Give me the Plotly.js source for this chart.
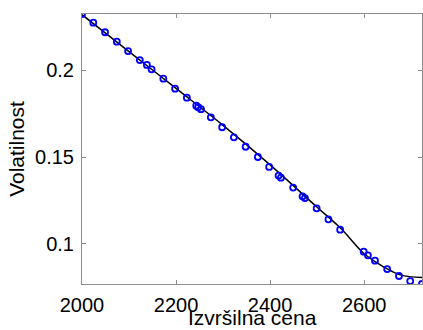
<!DOCTYPE html>
<html>
<head>
<meta charset="utf-8">
<script src="https://cdn.plot.ly/plotly-3.0.1.min.js"></script>
<style>html,body{margin:0;padding:0;background:#fff;}#chart{width:423px;height:330px;}</style>
</head>
<body>
<div id="chart"></div>
<script>
// Observed data (strike price vs. implied volatility)
const strikes = [2000, 2024, 2049, 2074, 2098, 2123, 2138, 2148, 2173, 2198, 2223, 2243, 2247, 2253, 2274, 2298, 2323,
                 2348, 2374, 2398, 2418, 2423, 2449, 2469, 2474, 2499, 2524, 2549, 2599, 2608, 2623, 2649, 2674, 2698, 2723];
const vols = [0.2322, 0.2272, 0.2217, 0.2163, 0.2109, 0.2057, 0.2029, 0.2004, 0.1950, 0.1893, 0.1841, 0.1795, 0.1786, 0.1775, 0.1728, 0.1671, 0.1613,
              0.1559, 0.1500, 0.1443, 0.1393, 0.1381, 0.1324, 0.1274, 0.1264, 0.1205, 0.1142, 0.1082, 0.0956, 0.0935, 0.0904, 0.0856, 0.0816, 0.0787, 0.0770];
// Fitted curve
const fitX = [2000, 2100, 2200, 2300, 2400, 2500, 2550, 2600, 2625, 2650, 2675, 2700, 2723];
const fitY = [0.2318, 0.2106, 0.1894, 0.1682, 0.1455, 0.1211, 0.1090, 0.0944, 0.0896, 0.0855, 0.0824, 0.0811, 0.0808];
const xTicks = [2000, 2200, 2400, 2600];
const yTicks = [0.1, 0.15, 0.2];
const xTitle = 'Izvršilna cena';
const yTitle = 'Volatilnost';

const family = 'Liberation Sans, Arial, sans-serif';
const tickFont = {family: family, size: 20, color: '#000'};
const titleFont = {family: family, size: 21, color: '#000'};
const traces = [
  {x: fitX, y: fitY, mode: 'lines', line: {color: '#000', width: 1.5, shape: 'spline', smoothing: 1}, hoverinfo: 'skip'},
  {x: strikes, y: vols, mode: 'markers',
   marker: {symbol: 'circle-open', size: 6, color: '#0000ff', line: {width: 1.8, color: '#0000ff'}}}
];
const axisCommon = {showgrid: false, zeroline: false, showline: true, mirror: 'ticks', linecolor: '#8c8c8c', linewidth: 1,
  ticks: 'inside', ticklen: 4, tickcolor: '#8c8c8c', tickfont: tickFont, automargin: false};
const layout = {
  width: 423, height: 330, showlegend: false,
  margin: {l: 82, r: 1, t: 14, b: 46},
  paper_bgcolor: '#fff', plot_bgcolor: '#fff',
  xaxis: Object.assign({}, axisCommon, {range: [2000, 2723], tickvals: xTicks, ticktext: xTicks.map(String),
    ticklabelstandoff: 3}),
  yaxis: Object.assign({}, axisCommon, {range: [0.077, 0.2322], tickvals: yTicks, ticktext: ['0.1', '0.15', '0.2'],
    ticklabelstandoff: 3,
    title: {text: yTitle, font: titleFont, standoff: 4}}),
  annotations: [{
    text: xTitle, font: titleFont, showarrow: false,
    xref: 'paper', yref: 'paper', x: 0.5, y: 0, xanchor: 'center', yanchor: 'bottom',
    yshift: -46, borderpad: 0
  }]
};
Plotly.newPlot('chart', traces, layout, {displayModeBar: false, staticPlot: true});
</script>
</body>
</html>
